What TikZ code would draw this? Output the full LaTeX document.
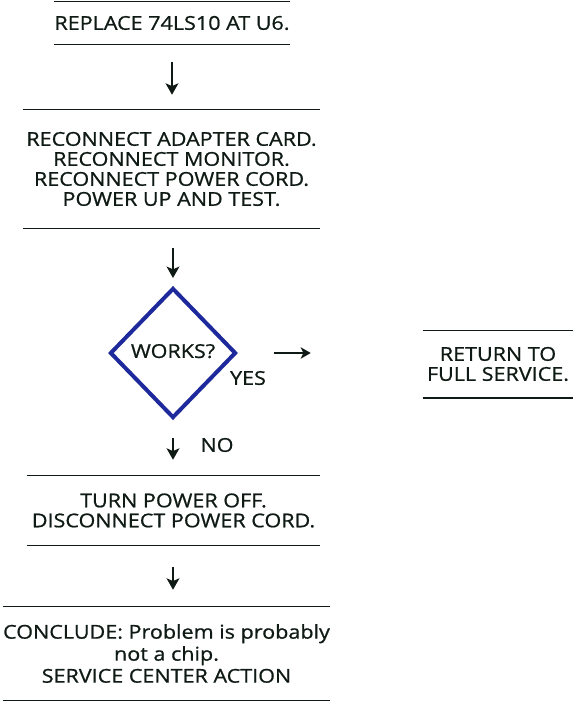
\documentclass[tikz,border=0pt]{standalone}
\usepackage{fontspec}
\setmainfont{Open Sans}[FakeStretch=1.13,FakeBold=0.8]
\usetikzlibrary{shapes.geometric,arrows.meta}
\definecolor{ink}{HTML}{0F1A14}
\definecolor{dblue}{HTML}{1E2A9C}
\begin{document}
\begin{tikzpicture}[x=0.75pt,y=-0.75pt,
  every node/.style={text=ink,font=\fontsize{14.3}{15}\selectfont},
  stepbox/.style={align=center,inner sep=0pt},
  rule/.style={draw=ink,line width=1.1pt},
  flow/.style={draw=ink,line width=1.7pt,-{Stealth[length=8.5pt,width=9.5pt,inset=2pt]}},
  decision/.style={diamond,draw=dblue,line width=3pt,minimum width=94.5pt,minimum height=97.5pt,inner sep=0pt}]
\useasboundingbox (0,0) rectangle (581,704);
% boxes (node size = area between rules)
\node[stepbox,minimum width=174.75pt,minimum height=31.5pt] (b1) at (172,23) {\raisebox{-2.5pt}{REPLACE 74LS10 AT U6.}};
\node[stepbox,minimum width=222.75pt,minimum height=88.5pt] (b2) at (171.5,169)
  {RECONNECT ADAPTER CARD.\\RECONNECT MONITOR.\\RECONNECT POWER CORD.\\POWER UP AND TEST.};
\node[decision] (d) at (173,353) {\raisebox{3pt}{WORKS?}};
\node (yes) at (248,378) {YES};
\node[stepbox,minimum width=112.5pt,minimum height=50.25pt] (ret) at (498,364) {RETURN TO\\FULL SERVICE.};
\node (no) at (217,445) {NO};
\node[stepbox,minimum width=219.75pt,minimum height=51.75pt] (b4) at (173.5,510.5)
  {TURN POWER OFF.\\DISCONNECT POWER CORD.};
\node[stepbox,minimum width=245.25pt,minimum height=69.75pt,font=\fontsize{14.3}{16.5}\selectfont] (b5) at (166.5,653.5)
  {CONCLUDE: Problem is probably\\not a chip.\\SERVICE CENTER ACTION};
% rules above and below the boxes
\foreach \b in {b1,b2,ret,b4,b5}{
  \draw[rule] (\b.north west) -- (\b.north east);
  \draw[rule] (\b.south west) -- (\b.south east);
}
% arrows
\draw[flow,shorten <=13.5pt,shorten >=11.25pt] (b1.south) -- (b1.south |- b2.north);
\draw[flow,shorten <=15pt,shorten >=6pt] (b2.south -| d.north) -- (d.north);
\draw[flow,-{Stealth[length=7.5pt,width=8.5pt,inset=2pt]},shorten <=27pt,shorten >=84pt] (d.east) -- (d.east -| ret.west);
\draw[flow,shorten <=13.5pt,shorten >=12pt] (d.south) -- (d.south |- b4.north);
\draw[flow,shorten <=16.5pt,shorten >=12.75pt] (b4.south -| d.south) -- (d.south |- b5.north);
\end{tikzpicture}
\end{document}
